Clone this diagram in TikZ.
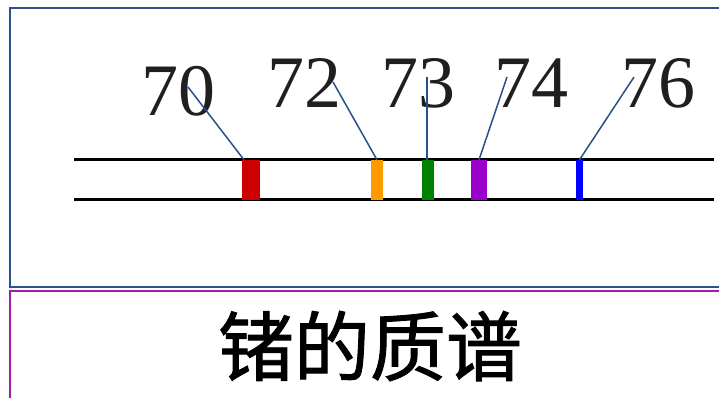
\documentclass[tikz,border=0pt]{standalone}
\usepackage{fontspec}
\setmainfont{Liberation Serif}
\newfontfamily\cjk[FakeBold=1.2]{Noto Sans CJK SC}
\definecolor{frameblue}{RGB}{44,82,140}
\definecolor{leadblue}{RGB}{40,80,140}
\definecolor{framemag}{RGB}{160,30,170}
\definecolor{barred}{RGB}{204,0,0}
\definecolor{barorange}{RGB}{255,153,0}
\definecolor{bargreen}{RGB}{0,128,0}
\definecolor{barpurple}{RGB}{153,0,204}
\definecolor{barblue}{RGB}{0,0,255}
\begin{document}
\begin{tikzpicture}[x=1pt,y=-1pt,
  numlabel/.style={inner sep=0pt,font=\fontsize{74}{80}\selectfont,text=black!88},
  bar/.style={draw=none,inner sep=0pt,minimum height=40pt},
  leader/.style={draw=leadblue,line width=1.5pt},
  rail/.style={draw=black,line width=3pt}]
\useasboundingbox (0,0) rectangle (719,398);
% frames
\draw[frameblue,line width=2pt] (730,287) -- (10,287) -- (10,8.5) -- (730,8.5);
\draw[framemag,line width=2pt] (730,291) -- (10,291) -- (10,410);
% rails
\coordinate (r1a) at (74,160); \coordinate (r1b) at (714,160);
\coordinate (r2a) at (74,199.5); \coordinate (r2b) at (714,199.5);
\draw[rail] (r1a) -- (r1b);
\draw[rail] (r2a) -- (r2b);
% bars
\node[bar,fill=barred,minimum width=18pt] (b70) at (251,180) {};
\node[bar,fill=barorange,minimum width=12pt] (b72) at (377,180) {};
\node[bar,fill=bargreen,minimum width=12pt] (b73) at (428,180) {};
\node[bar,fill=barpurple,minimum width=16pt] (b74) at (479,180) {};
\node[bar,fill=barblue,minimum width=7pt] (b76) at (579.5,180) {};
% labels
\node[numlabel] (l70) at (178,91) {70};
\node[numlabel] (l72) at (304,83) {72};
\node[numlabel] (l73) at (418,83) {73};
\node[numlabel] (l74) at (531,83) {74};
\node[numlabel] (l76) at (658,83) {76};
\coordinate (s70) at (188,87);
\coordinate (s72) at (333,82);
\coordinate (s73) at (427,77);
\coordinate (s74) at (507,77);
\coordinate (s76) at (634,77);
\draw[leader] (s70) -- ([xshift=-7pt]b70.north);
\draw[leader] (s72) -- (b72.north);
\draw[leader] (s73) -- (s73 |- b73.north);
\draw[leader] (s74) -- (b74.north);
\draw[leader] (s76) -- (b76.north);
% title
\node[inner sep=0pt,font=\cjk\fontsize{76}{80}\selectfont] (title) at (370,346) {锗的质谱};
\end{tikzpicture}
\end{document}
